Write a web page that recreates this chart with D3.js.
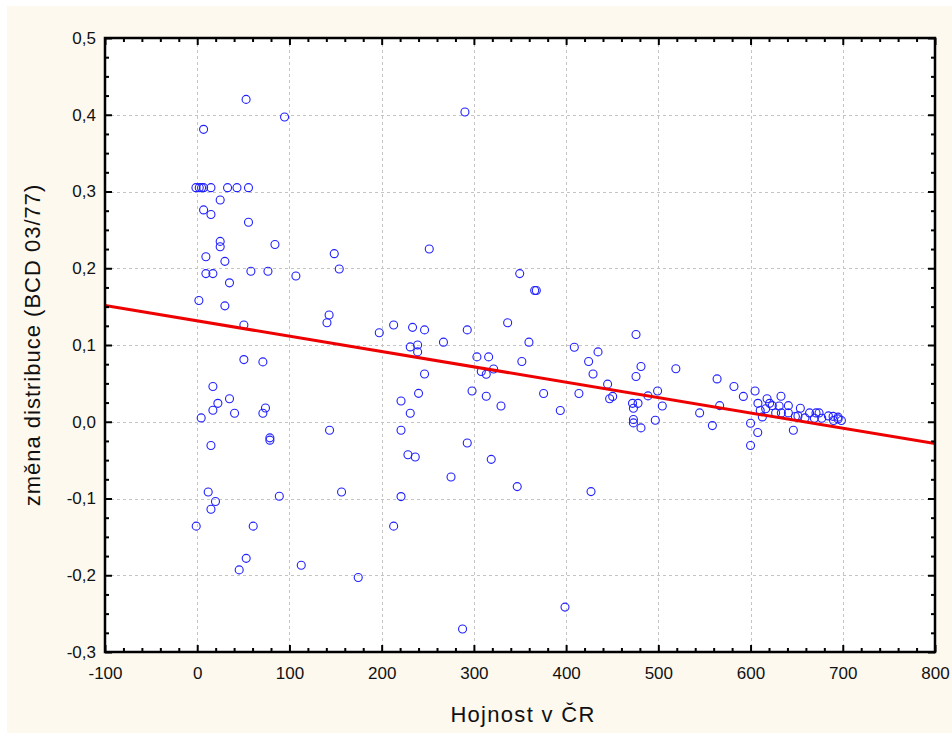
<!DOCTYPE html>
<html>
<head>
<meta charset="utf-8">
<script src="https://cdn.jsdelivr.net/npm/d3@7"></script>
<style>
  body { margin: 0; background: #fff; }
  text { font-family: "Liberation Sans", Arial, sans-serif; fill: #111; }
</style>
</head>
<body>
<div id="chart"></div>
<script>
// data: abundance in CR (x) vs change of distribution (y)
const hojnost = [
  53, 94.7, 6.9, -1.4, 2.2, 4.7, 6.9, 14.9, 32.9, 43.1, 55.6, 24.9, 6.9, 14.9, 55.6, 24.9, 24.9, 84.3, 148.6, 9.4,
  30, 154, 9.4, 17, 58.2, 76.7, 107, 35, 1.8, 30, 143, 140.7, 50.6, 197.4, 213, 233.5, 231, 239, 239, 50.6,
  71.2, 17, 35, 22.4, 17, 40.5, 4.3, 74, 71.2, 221, 231, 240, 14.9, 78.8, 78.8, 143.5, 221, 228.5, 236.4, 11.9,
  19.8, 14.9, 89, 156.5, 221, -1.1, 60.7, 213, 53.1, 45.5, 112.8, 174.6, 290.3, 251.6, 349.7, 365.9, 367.7, 246.5, 292.8, 336.6,
  475.8, 267, 359.7, 246.5, 303.3, 316, 352, 308, 313.4, 321.4, 298, 313.4, 329.4, 375.6, 393.7, 408.9, 434.6, 424.4, 429.2, 413.9,
  445, 447.2, 450.5, 475.8, 481.2, 472, 478, 473, 473, 473, 481.2, 488.8, 499.2, 504.3, 496.7, 519, 544.8, 292.8, 318.8, 275.2,
  347, 427, 398.8, 287.7, 558.6, 563.7, 566.5, 582, 592.2, 604.9, 600, 607.8, 600, 608, 610.5, 612.8, 617.9, 620.7, 616.4, 623.6,
  633, 631, 627.2, 633.4, 641, 641, 646.4, 648.6, 651.4, 654, 659, 664, 671, 674.3, 669.2, 677.2, 684.4, 689.5, 694.9, 690,
  694.9, 698.5
];
const zmena = [
  0.420, 0.397, 0.381, 0.305, 0.305, 0.305, 0.305, 0.305, 0.305, 0.305, 0.305, 0.289, 0.276, 0.270, 0.260, 0.235, 0.228, 0.231, 0.219, 0.215,
  0.209, 0.199, 0.193, 0.193, 0.196, 0.196, 0.190, 0.181, 0.158, 0.151, 0.139, 0.129, 0.126, 0.116, 0.126, 0.123, 0.0975, 0.100, 0.091, 0.081,
  0.078, 0.046, 0.030, 0.024, 0.015, 0.011, 0.005, 0.018, 0.011, 0.027, 0.011, 0.037, -0.031, -0.021, -0.024, -0.011, -0.011, -0.043, -0.046, -0.0915,
  -0.104, -0.114, -0.097, -0.0915, -0.0975, -0.136, -0.136, -0.136, -0.178, -0.193, -0.187, -0.203, 0.4035, 0.225, 0.193, 0.171, 0.171, 0.1197, 0.1197, 0.129,
  0.1137, 0.1037, 0.1037, 0.0623, 0.0845, 0.0845, 0.0785, 0.0654, 0.0619, 0.0688, 0.040, 0.0332, 0.0206, 0.0368, 0.0146, 0.097, 0.091, 0.0785, 0.0623, 0.0368,
  0.049, 0.030, 0.033, 0.059, 0.072, 0.024, 0.024, 0.0176, 0.003, -0.0015, -0.008, 0.0337, 0.040, 0.0206, 0.002, 0.069, 0.0115, -0.0276, -0.049, -0.072,
  -0.0845, -0.091, -0.2415, -0.270, -0.005, 0.0558, 0.021, 0.046, 0.033, 0.040, -0.002, -0.014, -0.031, 0.024, 0.0146, 0.0063, 0.030, 0.024, 0.017, 0.021,
  0.0332, 0.0206, 0.0115, 0.0115, 0.021, 0.0115, -0.011, 0.0068, 0.0076, 0.0176, 0.005, 0.0115, 0.0115, 0.0115, 0.0046, 0.0046, 0.0076, 0.007, 0.006, 0.0016,
  0.0037, 0.0016
];

// fitted line
const intercept = 0.1315;
const slope = -0.0002;

const xTicks = [-100, 0, 100, 200, 300, 400, 500, 600, 700, 800];
const yTicks = [-0.3, -0.2, -0.1, 0.0, 0.1, 0.2, 0.3, 0.4, 0.5];

const W = 952, H = 736;
const plot = { left: 105, right: 935, top: 38, bottom: 652 };

const svg = d3.select("#chart").append("svg")
  .attr("width", W).attr("height", H);

// cream page
svg.append("rect")
  .attr("x", 7).attr("y", 6).attr("width", W - 7).attr("height", H - 9)
  .attr("fill", "#fdf9ef");

const x = d3.scaleLinear().domain([-100, 800]).range([plot.left, plot.right]);
const y = d3.scaleLinear().domain([-0.3, 0.5]).range([plot.bottom, plot.top]);

const loc = d3.formatLocale({ decimal: ",", thousands: " ", grouping: [3], currency: ["", ""], minus: "-" });
const fy = loc.format(".1f");
const fx = loc.format("d");

const pw = plot.right - plot.left, ph = plot.bottom - plot.top;

// plot area
svg.append("rect")
  .attr("x", plot.left).attr("y", plot.top).attr("width", pw).attr("height", ph)
  .attr("fill", "#fff");

// grid
const grid = svg.append("g").attr("stroke", "#c4c4c4").attr("stroke-dasharray", "3,3").attr("stroke-width", 1);
grid.selectAll(".gx").data(xTicks.slice(1, -1)).join("line")
  .attr("x1", d => Math.round(x(d)) + 0.5).attr("x2", d => Math.round(x(d)) + 0.5)
  .attr("y1", plot.top).attr("y2", plot.bottom);
grid.selectAll(".gy").data(yTicks.slice(1, -1)).join("line")
  .attr("y1", d => Math.round(y(d)) + 0.5).attr("y2", d => Math.round(y(d)) + 0.5)
  .attr("x1", plot.left).attr("x2", plot.right);

// clip for the regression line
svg.append("clipPath").attr("id", "clip")
  .append("rect").attr("x", plot.left).attr("y", plot.top).attr("width", pw).attr("height", ph);

// points
svg.append("g")
  .selectAll("circle")
  .data(hojnost.map((v, i) => [v, zmena[i]]))
  .join("circle")
    .attr("cx", d => x(d[0]))
    .attr("cy", d => y(d[1]))
    .attr("r", 4)
    .attr("fill", "none")
    .attr("stroke", "#2020ff")
    .attr("stroke-width", 1.1);

// regression line
svg.append("line")
  .attr("clip-path", "url(#clip)")
  .attr("x1", x(-100)).attr("y1", y(intercept + slope * -100))
  .attr("x2", x(800)).attr("y2", y(intercept + slope * 800))
  .attr("stroke", "#ee0000").attr("stroke-width", 3);

// axes with inward ticks
function minor(step, lo, hi) {
  return d3.range(Math.round(lo / step), Math.round(hi / step) + 1).map(k => +(k * step).toFixed(4));
}
const xMinor = minor(20, -100, 800).filter(v => !xTicks.includes(v));
const yMinor = minor(0.025, -0.3, 0.5).filter(v => !yTicks.some(t => Math.abs(t - v) < 1e-6));

function styleAxis(g) {
  g.select(".domain").remove();
  g.selectAll(".tick line").attr("stroke", "#000").attr("stroke-width", 2);
  g.selectAll(".tick text").attr("font-size", 17).attr("fill", "#111");
}

svg.append("g").attr("transform", `translate(0,${plot.bottom})`)
  .call(d3.axisBottom(x).tickValues(xTicks).tickFormat(fx).tickSizeInner(-7).tickPadding(15))
  .call(styleAxis);
svg.append("g").attr("transform", `translate(0,${plot.bottom})`)
  .call(d3.axisBottom(x).tickValues(xMinor).tickFormat("").tickSizeInner(-4))
  .call(styleAxis);
svg.append("g").attr("transform", `translate(0,${plot.top})`)
  .call(d3.axisTop(x).tickValues(xTicks).tickFormat("").tickSizeInner(-7))
  .call(styleAxis);
svg.append("g").attr("transform", `translate(0,${plot.top})`)
  .call(d3.axisTop(x).tickValues(xMinor).tickFormat("").tickSizeInner(-4))
  .call(styleAxis);

svg.append("g").attr("transform", `translate(${plot.left},0)`)
  .call(d3.axisLeft(y).tickValues(yTicks).tickFormat(fy).tickSizeInner(-7).tickPadding(9))
  .call(styleAxis);
svg.append("g").attr("transform", `translate(${plot.left},0)`)
  .call(d3.axisLeft(y).tickValues(yMinor).tickFormat("").tickSizeInner(-4))
  .call(styleAxis);
svg.append("g").attr("transform", `translate(${plot.right},0)`)
  .call(d3.axisRight(y).tickValues(yTicks).tickFormat("").tickSizeInner(-7))
  .call(styleAxis);
svg.append("g").attr("transform", `translate(${plot.right},0)`)
  .call(d3.axisRight(y).tickValues(yMinor).tickFormat("").tickSizeInner(-4))
  .call(styleAxis);

// frame
svg.append("rect")
  .attr("x", plot.left).attr("y", plot.top).attr("width", pw).attr("height", ph)
  .attr("fill", "none").attr("stroke", "#000").attr("stroke-width", 2.5);

// axis titles
svg.append("text")
  .attr("x", (plot.left + plot.right) / 2 + 3).attr("y", 722)
  .attr("text-anchor", "middle")
  .attr("font-size", 22).attr("letter-spacing", 1.3)
  .text("Hojnost v ČR");

svg.append("text")
  .attr("transform", `translate(40,${(plot.top + plot.bottom) / 2}) rotate(-90)`)
  .attr("text-anchor", "middle")
  .attr("font-size", 22).attr("letter-spacing", 1)
  .text("změna distribuce (BCD 03/77)");
</script>
</body>
</html>
